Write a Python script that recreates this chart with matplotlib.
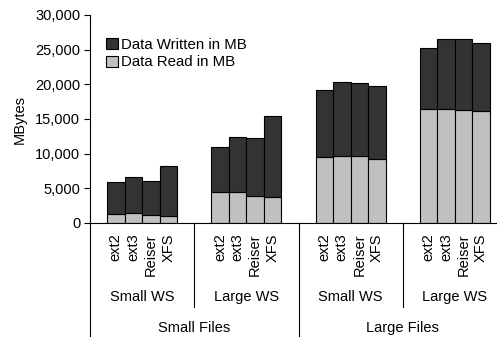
import matplotlib
matplotlib.use("Agg")
import matplotlib.pyplot as plt
import matplotlib.transforms as mtransforms
from matplotlib.ticker import FuncFormatter

plt.rcParams['font.family'] = ['Liberation Sans', 'DejaVu Sans']

filesystems = ['ext2', 'ext3', 'Reiser', 'XFS']
ws_labels = ['Small WS', 'Large WS', 'Small WS', 'Large WS']
file_labels = ['Small Files', 'Large Files']

# MB read / written, per group (Small Files/Small WS, Small Files/Large WS, Large Files/Small WS, Large Files/Large WS)
data_read = [
    [1250, 1400, 1100, 950],
    [4400, 4450, 3850, 3800],
    [9500, 9600, 9650, 9300],
    [16400, 16400, 16300, 16150],
]
data_total = [
    [5900, 6700, 6000, 8250],
    [11000, 12350, 12200, 15400],
    [19200, 20400, 20150, 19800],
    [25250, 26500, 26600, 25900],
]

fig = plt.figure(figsize=(4.97, 3.37), dpi=100)
ax = fig.add_axes([90 / 497, 114 / 337, 417 / 497, 208 / 337])

bw = 17.5 / 104.25
written_color = '#333333'
read_color = '#c0c0c0'

for g in range(4):
    for i in range(4):
        x = g + 0.5 + (i - 1.5) * bw
        r = data_read[g][i]
        w = data_total[g][i] - r
        ax.bar(x, r, width=bw, color=read_color, edgecolor='black', linewidth=0.8,
               label='Data Read in MB' if (g == 0 and i == 0) else None)
        ax.bar(x, w, bottom=r, width=bw, color=written_color, edgecolor='black', linewidth=0.8,
               label='Data Written in MB' if (g == 0 and i == 0) else None)

ax.set_xlim(0, 4)
ax.set_ylim(0, 30000)
ax.set_yticks(range(0, 30001, 5000))
ax.yaxis.set_major_formatter(FuncFormatter(lambda v, p: f'{int(v):,}'))
ax.tick_params(axis='y', labelsize=10.5, length=4, width=0.8, direction='out', pad=3)
ax.set_xticks([])
for s in ['top', 'right']:
    ax.spines[s].set_visible(False)
ax.spines['left'].set_linewidth(0.8)
ax.spines['bottom'].set_linewidth(0.8)
ax.set_ylabel('MBytes', fontsize=10.5, labelpad=6)

trans = mtransforms.blended_transform_factory(ax.transData, ax.transAxes)

# filesystem labels
for g in range(4):
    for i in range(4):
        x = g + 0.5 + (i - 1.5) * bw
        ax.text(x, -0.05, filesystems[i], rotation=90, ha='center', va='top',
                fontsize=10.5, transform=trans)
    ax.text(g + 0.5, -0.355, ws_labels[g], ha='center', va='center',
            fontsize=10.5, transform=trans)

for k in range(2):
    ax.text(2 * k + 1, -0.505, file_labels[k], ha='center', va='center',
            fontsize=10.5, transform=trans)

# group separators
for xs in [1, 3]:
    ax.plot([xs, xs], [0, -0.405], color='black', lw=0.8, transform=trans, clip_on=False)
for xs in [0, 2]:
    ax.plot([xs, xs], [0, -0.6], color='black', lw=0.8, transform=trans, clip_on=False)

handles, labels = ax.get_legend_handles_labels()
ax.legend(handles[::-1], labels[::-1], loc='upper left', bbox_to_anchor=(0.025, 0.92),
          frameon=False, fontsize=10.8, handlelength=0.75, handleheight=0.75,
          handletextpad=0.2, labelspacing=0.25, borderaxespad=0)

fig.savefig('out.png', dpi=100)
